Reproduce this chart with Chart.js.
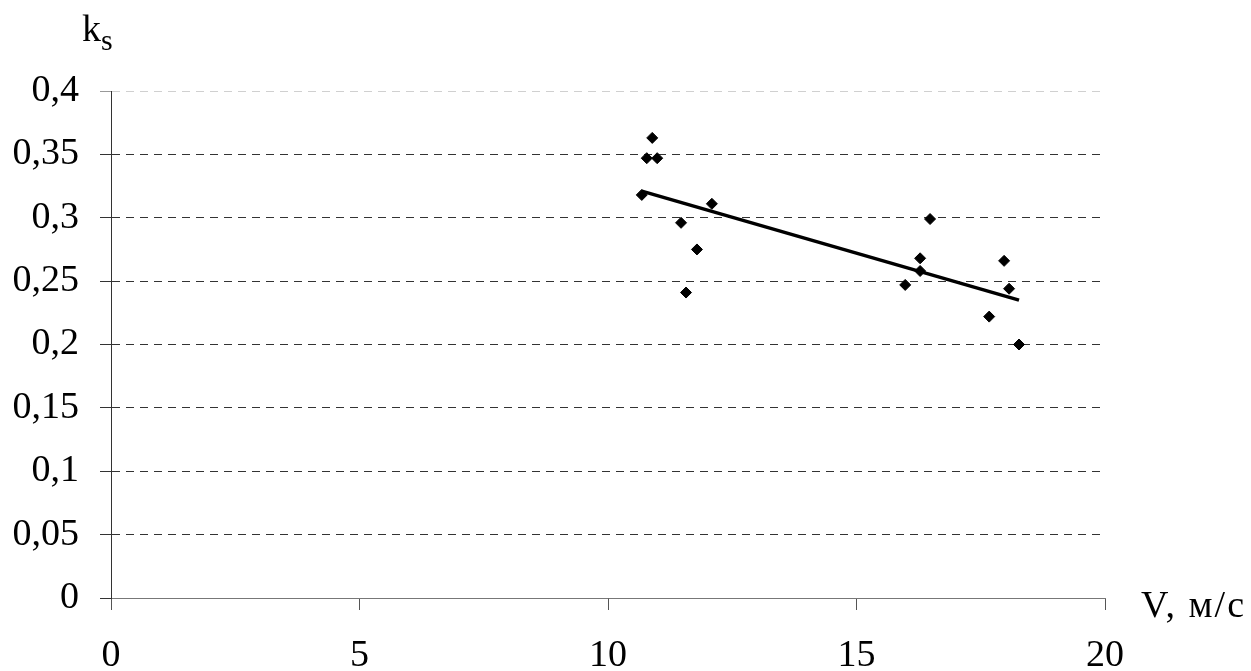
<!DOCTYPE html>
<html lang="ru">
<head>
<meta charset="utf-8">
<title>k_s (V)</title>
<script src="https://cdn.jsdelivr.net/npm/chart.js@4.4.1/dist/chart.umd.min.js"></script>
<style>
html, body { margin: 0; padding: 0; background: #fff; }
#wrap { position: relative; width: 1251px; height: 671px; }
#chart { position: absolute; left: 0; top: 0; }
.lbl {
    position: absolute;
    font-family: "Liberation Serif", "Times New Roman", serif;
    font-size: 38px;
    line-height: 38px;
    color: #000;
    white-space: nowrap;
}
.lbl .sub { position: relative; top: 9px; font-size: 30px; }
</style>
</head>
<body>
<div id="wrap">
    <canvas id="chart" width="1251" height="671"></canvas>
    <div class="lbl" style="left:82px; top:9px;">k<span class="sub">s</span></div>
    <div class="lbl" style="left:1141px; top:585px; letter-spacing:2px;">V, м/с</div>
</div>
<script>
// ---- данные ----
const speedV = [10.68, 10.78, 10.89, 10.99, 11.47, 11.57, 11.79, 12.09,
                15.98, 16.28, 16.28, 16.48, 17.67, 17.97, 18.07, 18.27];
const coefKs = [0.318, 0.347, 0.363, 0.347, 0.296, 0.241, 0.275, 0.311,
                0.247, 0.268, 0.258, 0.299, 0.222, 0.266, 0.244, 0.200];
// линия тренда (концы)
const trendV  = [10.68, 18.27];
const trendKs = [0.321, 0.235];

const xTickLabels = ['0', '5', '10', '15', '20'];
const yTickLabels = ['0', '0,05', '0,1', '0,15', '0,2', '0,25', '0,3', '0,35', '0,4'];

const fontTicks = { family: '"Liberation Serif", "Times New Roman", serif', size: 38 };

new Chart(document.getElementById('chart'), {
    type: 'scatter',
    data: {
        datasets: [
            {
                label: 'k_s',
                data: speedV.map((v, i) => ({ x: v, y: coefKs[i] })),
                pointStyle: 'rectRot',
                pointRadius: 5.5,
                backgroundColor: '#000',
                borderColor: '#000',
                borderWidth: 1,
                showLine: false,
                order: 1
            },
            {
                label: 'тренд',
                data: trendV.map((v, i) => ({ x: v, y: trendKs[i] })),
                showLine: true,
                borderColor: '#000',
                borderWidth: 3.5,
                pointRadius: 0,
                fill: false,
                order: 0
            }
        ]
    },
    options: {
        responsive: false,
        animation: false,
        devicePixelRatio: 1,
        layout: { padding: { top: 91, right: 146, left: 0, bottom: 0 } },
        plugins: { legend: { display: false }, tooltip: { enabled: false } },
        scales: {
            x: {
                type: 'linear',
                min: 0,
                max: 20,
                afterFit: s => { s.height = 73; },
                ticks: {
                    stepSize: 5,
                    color: '#000',
                    font: fontTicks,
                    padding: 23,
                    maxRotation: 0,
                    callback: (v) => xTickLabels[Math.round(v / 5)]
                },
                grid: {
                    drawOnChartArea: false,
                    tickLength: 12,
                    tickColor: '#555'
                },
                border: { color: '#777', width: 1 }
            },
            y: {
                min: 0,
                max: 0.4,
                afterFit: s => { s.width = 111; },
                ticks: {
                    stepSize: 0.05,
                    color: '#000',
                    font: fontTicks,
                    padding: 21,
                    callback: (v) => yTickLabels[Math.round(v / 0.05)]
                },
                grid: {
                    color: c => (c.tick && Math.abs(c.tick.value - 0.4) < 1e-6) ? '#d0d0d0' : '#333',
                    tickColor: c => (c.tick && Math.abs(c.tick.value - 0.4) < 1e-6) ? '#999' : '#333',
                    tickLength: 11,
                    lineWidth: 1
                },
                border: { color: '#333', width: 1, dash: [8, 6] }
            }
        }
    }
});
</script>
</body>
</html>
